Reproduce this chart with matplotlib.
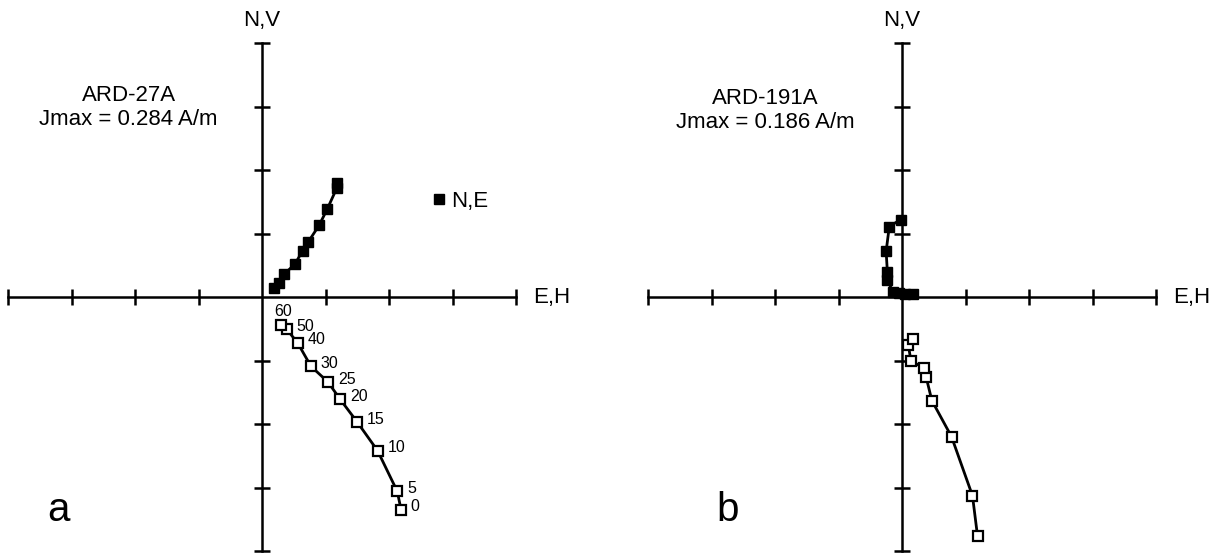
import numpy as np
import matplotlib
matplotlib.use('Agg')
import matplotlib.pyplot as plt

plt.rcParams['font.family'] = ['Liberation Sans', 'DejaVu Sans']

# demagnetization steps (panel a labels)
steps_a = ['0', '5', '10', '15', '20', '25', '30', '40', '50', '60']

# panel a: ARD-27A, horizontal (N,E) and vertical (V,H) projections
a_ne_e = [1.18, 1.18, 1.03, 0.90, 0.73, 0.64, 0.52, 0.35, 0.26, 0.19]
a_ne_n = [1.80, 1.72, 1.39, 1.13, 0.87, 0.73, 0.52, 0.36, 0.22, 0.14]
a_vh_h = [2.19, 2.13, 1.82, 1.50, 1.23, 1.04, 0.77, 0.56, 0.39, 0.30]
a_vh_v = [-3.35, -3.06, -2.42, -1.97, -1.61, -1.34, -1.09, -0.72, -0.51, -0.44]

# panel b: ARD-191A
b_ne_e = [-0.02, -0.20, -0.25, -0.23, -0.23, -0.14, -0.04, 0.05, 0.18]
b_ne_n = [1.22, 1.11, 0.72, 0.39, 0.26, 0.08, 0.06, 0.05, 0.04]
b_vh_h = [1.19, 1.11, 0.78, 0.47, 0.38, 0.34, 0.14, 0.10, 0.18]
b_vh_v = [-3.77, -3.13, -2.20, -1.63, -1.26, -1.12, -1.00, -0.76, -0.66]

ticks = [-4, -3, -2, -1, 1, 2, 3, 4]

W, H = 1215, 558
FS = 16
fig = plt.figure(figsize=(W / 100, H / 100), dpi=100)

def make_axes(cx, cy, unit=63.5):
  # axes where data range -4..4 is centred on pixel (cx, cy)
  half = 4 * unit
  ax = fig.add_axes([(cx - half) / W, (H - cy - half) / H, 2 * half / W, 2 * half / H])
  ax.set_xlim(-4, 4)
  ax.set_ylim(-4, 4)
  for side in ['top', 'right']:
    ax.spines[side].set_visible(False)
  for side in ['left', 'bottom']:
    ax.spines[side].set_position('zero')
    ax.spines[side].set_linewidth(1.8)
  ax.set_xticks(ticks)
  ax.set_yticks(ticks)
  ax.set_xticklabels([])
  ax.set_yticklabels([])
  ax.tick_params(direction='inout', length=11, width=1.8)
  ax.patch.set_visible(False)
  ax.text(0, 4.36, 'N,V', ha='center', va='center', fontsize=FS)
  ax.text(4.27, 0, 'E,H', ha='left', va='center', fontsize=FS)
  return ax

def draw_series(ax, e, n, h, v):
  ax.plot(e, n, color='black', lw=2.0, marker='s', ms=7.5,
          mfc='black', mec='black', clip_on=False, zorder=3)
  ax.plot(h, v, color='black', lw=2.0, marker='s', ms=6.5,
          mfc='white', mec='black', mew=1.6, clip_on=False, zorder=3)

# panel a
ax1 = make_axes(262, 297)
draw_series(ax1, a_ne_e, a_ne_n, a_vh_h, a_vh_v)
for lab, x, y in zip(steps_a, a_vh_h, a_vh_v):
  if lab == '60':
    ax1.annotate(lab, (x, y), xytext=(1.5, 9.5), textcoords='offset points',
                 ha='center', va='center', fontsize=11.5)
  else:
    ax1.annotate(lab, (x, y), xytext=(7, 2), textcoords='offset points',
                 ha='left', va='center', fontsize=11.5)
ax1.text(-2.1, 3.18, 'ARD-27A', ha='center', va='center', fontsize=FS)
ax1.text(-2.1, 2.8, 'Jmax = 0.284 A/m', ha='center', va='center', fontsize=FS)
ax1.plot([2.78], [1.55], marker='s', ms=7.5, color='black', clip_on=False)
ax1.text(2.98, 1.5, 'N,E', ha='left', va='center', fontsize=FS)
ax1.text(-3.2, -3.35, 'a', ha='center', va='center', fontsize=29)

# panel b
ax2 = make_axes(902, 297)
draw_series(ax2, b_ne_e, b_ne_n, b_vh_h, b_vh_v)
ax2.text(-2.15, 3.13, 'ARD-191A', ha='center', va='center', fontsize=FS)
ax2.text(-2.15, 2.75, 'Jmax = 0.186 A/m', ha='center', va='center', fontsize=FS)
ax2.text(-2.75, -3.35, 'b', ha='center', va='center', fontsize=29)

fig.savefig('out.png', dpi=100)
